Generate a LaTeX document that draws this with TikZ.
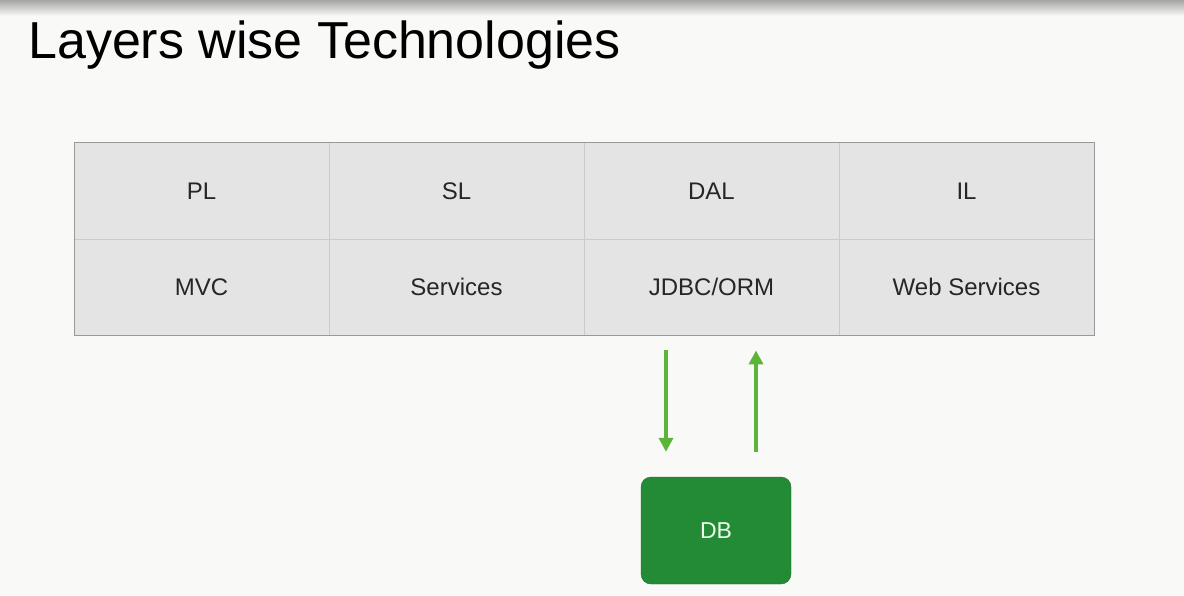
\documentclass[tikz,border=0pt]{standalone}
\usepackage{fontspec}
\setmainfont{Liberation Sans}
\usetikzlibrary{positioning,arrows.meta}
\definecolor{bgcol}{HTML}{F9F9F7}
\definecolor{cellfill}{HTML}{E4E4E4}
\definecolor{cellline}{HTML}{CBCBCB}
\definecolor{flowgreen}{HTML}{5DB43A}
\definecolor{dbgreen}{HTML}{238A35}

\begin{document}
\begin{tikzpicture}[x=1pt, y=-1pt,
        cell/.style={draw=cellline, fill=cellfill, minimum width=255pt, minimum height=96.5pt,
            inner sep=0pt, text height=17pt, text depth=0pt, font=\fontsize{24}{28}\selectfont, text=black!85},
        flow/.style={draw=flowgreen, line width=3.5pt, -{Triangle[length=14pt,width=14pt]}},
        dbbox/.style={fill=dbgreen, draw=dbgreen!80!black, rounded corners=10pt, minimum width=150pt,
            minimum height=107pt, inner sep=0pt, text height=16pt, text depth=0pt,
            font=\fontsize{23}{26}\selectfont, text=white!92!green}]
        % Background and top shadow
        \fill[bgcol] (0,0) rectangle (1184,595);
        \shade[top color=black!35, bottom color=bgcol] (0,0) rectangle (1184,16);
        % Title
        \node[anchor=base west, inner sep=0pt, font=\fontsize{52}{58}\selectfont] (title) at (28,58) {Layers wise Technologies};
        % Layers and their technologies
        \foreach \i/\lay/\tech in {0/PL/MVC, 1/SL/Services, 2/DAL/JDBC\slash ORM, 3/IL/Web Services} {
            \node[cell] (lay\i) at (201.5+255*\i,190.5) {\lay};
            \node[cell] (tech\i) at (201.5+255*\i,287) {\tech};
        }
        \draw[draw=black!40] (lay0.north west) rectangle (tech3.south east);
        % Database
        \node[dbbox] (db) at (716,530.5) {DB};
        \coordinate (req) at (666,0);
        \coordinate (res) at (756,0);
        \draw[flow, shorten <=15pt, shorten >=25pt] (tech2.south -| req) -- (db.north -| req);
        \draw[flow, shorten <=25pt, shorten >=15pt] (db.north -| res) -- (tech2.south -| res);
    \end{tikzpicture}
\end{document}
